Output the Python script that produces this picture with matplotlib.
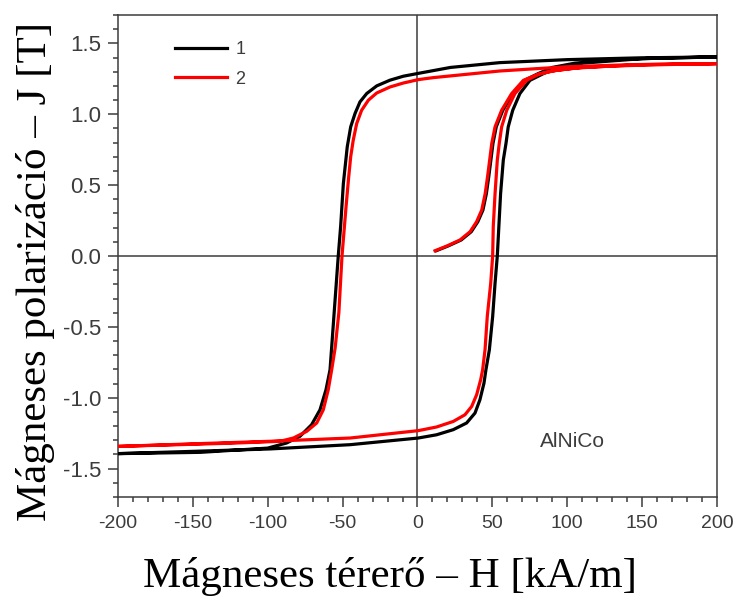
import matplotlib
matplotlib.use('Agg')
import matplotlib.pyplot as plt
from matplotlib.ticker import MultipleLocator, FixedLocator

# sample 1 (black): virgin curve, descending branch, ascending branch
virgin_H1 = [12.5, 20.3, 29.2, 35.9, 40.3, 43.7, 46, 47.6, 49, 50.4, 52.6, 57, 63.7, 71.5, 80.5,
             90, 105, 130, 165, 200]
virgin_J1 = [0.037, 0.07, 0.113, 0.171, 0.242, 0.324, 0.44, 0.56, 0.676, 0.794, 0.911, 1.028,
             1.146, 1.239, 1.286, 1.33, 1.36, 1.385, 1.397, 1.404]
desc_H1 = [200, 150, 100, 55, 22, 0.5, -9.5, -18.4, -27.2, -33.9, -38.4, -41.7, -44.6, -46.9,
           -49.5, -51.3, -52.9, -55.5, -57, -58.4, -61.1, -65.1, -70.7, -78.5, -87.4, -100,
           -145, -200]
desc_J1 = [1.404, 1.398, 1.385, 1.364, 1.33, 1.288, 1.268, 1.24, 1.2, 1.146, 1.087, 1.005, 0.911,
           0.77, 0.51, 0.21, 0.0, -0.38, -0.6, -0.803, -0.944, -1.085, -1.19, -1.272, -1.319,
           -1.355, -1.385, -1.394]
asc_H1 = [-200, -150, -98.5, -45, 0.5, 12.8, 23.9, 32.8, 38.4, 41.7, 44.4, 45.7, 48, 50.2, 51.8,
          53.3, 54.3, 55.5, 57.3, 59.1, 60.6, 63.6, 68.4, 75.1, 84, 95, 110, 150, 200]
asc_J1 = [-1.394, -1.378, -1.361, -1.331, -1.284, -1.261, -1.225, -1.178, -1.108, -1.014, -0.897,
          -0.803, -0.662, -0.427, -0.192, 0.0, 0.2, 0.44, 0.676, 0.794, 0.911, 1.028, 1.146,
          1.239, 1.286, 1.33, 1.36, 1.392, 1.404]

# sample 2 (red)
virgin_H2 = [11.7, 19.5, 28.4, 35.1, 39.5, 42.9, 45.2, 46.8, 48.2, 49.6, 51.8, 56.2, 62.9, 70.7,
             80, 90, 105, 130, 165, 200]
virgin_J2 = [0.037, 0.07, 0.113, 0.171, 0.242, 0.324, 0.44, 0.56, 0.676, 0.794, 0.911, 1.028,
             1.146, 1.239, 1.28, 1.305, 1.325, 1.34, 1.35, 1.357]
desc_H2 = [200, 144, 100, 55, 10.4, 0.5, -9.5, -18.4, -27.2, -32.8, -37.3, -40.6, -42.9, -44.6,
           -46, -47.7, -50.4, -52.5, -55, -57.3, -59.6, -62.9, -67.3, -74, -82.9, -91.8, -123,
           -200]
desc_J2 = [1.357, 1.35, 1.335, 1.305, 1.258, 1.244, 1.22, 1.192, 1.15, 1.099, 1.028, 0.934, 0.817,
           0.70, 0.55, 0.347, 0.0, -0.4, -0.65, -0.803, -0.944, -1.085, -1.178, -1.237, -1.284,
           -1.307, -1.32, -1.343]
asc_H2 = [-200, -150, -98.5, -45, 0.5, 12.8, 23.9, 31.7, 36.2, 39.5, 42.2, 43.5, 45.1, 46.6,
          48.9, 50.2, 50.6, 51.8, 53.3, 54.6, 56.2, 59.6, 65.1, 72.9, 81.8, 93, 110, 150, 200]
asc_J2 = [-1.343, -1.325, -1.307, -1.284, -1.232, -1.206, -1.167, -1.12, -1.061, -0.979, -0.873,
          -0.803, -0.662, -0.427, -0.192, 0.0, 0.206, 0.44, 0.676, 0.794, 0.911, 1.028, 1.146,
          1.239, 1.286, 1.31, 1.33, 1.35, 1.357]

x_ticks = [-200, -150, -100, -50, 0, 50, 100, 150, 200]
y_ticks = [-1.5, -1.0, -0.5, 0.0, 0.5, 1.0, 1.5]

plt.rcParams['font.family'] = ['Liberation Sans', 'DejaVu Sans']
gray = '#3c3c3c'

fig = plt.figure(figsize=(7.35, 5.97), dpi=100)
ax = fig.add_axes([0.1605, 0.1675, 0.8150, 0.8074])

ax.axhline(0, color=gray, lw=1.1, zorder=1)
ax.axvline(0, color=gray, lw=1.1, zorder=1)

H1 = virgin_H1 + desc_H1 + asc_H1
J1 = virgin_J1 + desc_J1 + asc_J1
H2 = virgin_H2 + desc_H2 + asc_H2
J2 = virgin_J2 + desc_J2 + asc_J2
ax.plot(H1, J1, color='black', lw=2.3, label='1', zorder=3)
ax.plot(H2, J2, color='#ff0000', lw=2.3, label='2', zorder=4)

ax.set_xlim(-200, 200)
ax.set_ylim(-1.7, 1.7)
ax.xaxis.set_major_locator(FixedLocator(x_ticks))
ax.yaxis.set_major_locator(FixedLocator(y_ticks))
ax.xaxis.set_minor_locator(MultipleLocator(10))
ax.yaxis.set_minor_locator(MultipleLocator(0.1))
ax.set_xticklabels([str(v) for v in x_ticks])
ax.set_yticklabels(['%.1f' % v for v in y_ticks])

ax.tick_params(axis='both', which='major', direction='out', length=7, width=1.1,
               color=gray, labelcolor=gray)
ax.tick_params(axis='both', which='minor', direction='out', length=3.6, width=1.1, color=gray)
ax.tick_params(axis='x', which='major', labelsize=14, pad=6)
ax.tick_params(axis='y', which='major', labelsize=16, pad=5)
for s in ax.spines.values():
    s.set_color(gray)
    s.set_linewidth(1.1)

ax.text(0.758, 0.116, 'AlNiCo', transform=ax.transAxes, ha='center', va='center',
        fontsize=15, color=gray)

ax.legend(loc='upper left', bbox_to_anchor=(0.095, 0.946), frameon=False, fontsize=13,
          handlelength=2.9, handletextpad=0.45, labelspacing=0.7, borderpad=0,
          borderaxespad=0, labelcolor=gray)

ax.set_xlabel('Mágneses térerő – H [kA/m]', family='Liberation Serif', fontsize=31, labelpad=18)
ax.set_ylabel('Mágneses polarizáció – J [T]', family='Liberation Serif', fontsize=31, labelpad=6)
ax.xaxis.label.set_x(0.454)
ax.yaxis.label.set_y(0.467)

fig.savefig('out.png', dpi=100)
